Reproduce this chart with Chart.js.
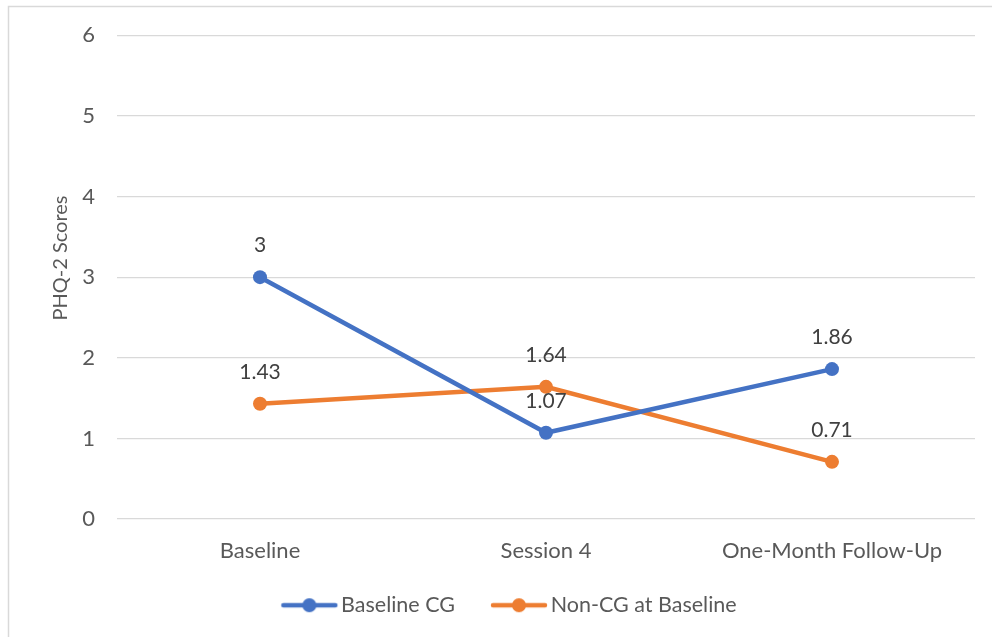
<!DOCTYPE html>
<html>
<head>
<meta charset="utf-8">
<script src="https://cdn.jsdelivr.net/npm/chart.js@4.4.1/dist/chart.umd.min.js"></script>
<style>
  html, body { margin: 0; padding: 0; background: #ffffff; }
  #wrap { position: relative; width: 992px; height: 637px; }
</style>
</head>
<body>
<div id="wrap"><canvas id="chart" width="992" height="637"></canvas></div>
<script>
// Time points and PHQ-2 scores per group
const timePoints = ['Baseline', 'Session 4', 'One-Month Follow-Up'];
const baselineCG = [3, 1.07, 1.86];
const nonCGAtBaseline = [1.43, 1.64, 0.71];
const yTicks = [0, 1, 2, 3, 4, 5, 6];
const yAxisTitle = 'PHQ-2 Scores';

const BLUE = '#4472c4';
const ORANGE = '#ed7d31';
const FONT = 'Lato, "Open Sans", sans-serif';
const TEXT = '#595959';

// Legend swatch: a short line with a dot in the middle.
// The canvas is wider than the line so the line sits right of the box start,
// which leaves a gap between the two legend entries.
function lineDotSwatch(color) {
  const c = document.createElement('canvas');
  c.width = 92; c.height = 16;
  const g = c.getContext('2d');
  g.strokeStyle = color;
  g.lineWidth = 4.5;
  g.lineCap = 'round';
  g.beginPath(); g.moveTo(36, 8); g.lineTo(88, 8); g.stroke();
  g.fillStyle = color;
  g.beginPath(); g.arc(62, 8, 7, 0, Math.PI * 2); g.fill();
  return c;
}

// Thin frame around the chart
const framePlugin = {
  id: 'frame',
  beforeDraw(chart) {
    const ctx = chart.ctx;
    ctx.save();
    ctx.strokeStyle = '#d9d9d9';
    ctx.lineWidth = 1.5;
    ctx.strokeRect(8.5, 6.5, 1400, 1400);
    ctx.restore();
  }
};

// Vertical axis title beside the tick labels
const axisTitlePlugin = {
  id: 'axisTitle',
  afterDraw(chart) {
    const ctx = chart.ctx;
    ctx.save();
    ctx.translate(61, 258);
    ctx.rotate(-Math.PI / 2);
    ctx.font = '20px ' + FONT;
    ctx.fillStyle = TEXT;
    ctx.textAlign = 'center';
    ctx.textBaseline = 'middle';
    ctx.fillText(yAxisTitle, 0, 0);
    ctx.restore();
  }
};

// Value labels above each point
const valueLabels = {
  id: 'valueLabels',
  afterDatasetsDraw(chart) {
    const ctx = chart.ctx;
    ctx.save();
    ctx.font = '21px ' + FONT;
    ctx.fillStyle = '#404040';
    ctx.textAlign = 'center';
    ctx.textBaseline = 'middle';
    chart.data.datasets.forEach((ds, i) => {
      const meta = chart.getDatasetMeta(i);
      meta.data.forEach((pt, j) => {
        ctx.fillText(String(ds.data[j]), pt.x, pt.y - 32);
      });
    });
    ctx.restore();
  }
};

function seriesStyle(color) {
  return {
    borderColor: color,
    backgroundColor: color,
    borderWidth: 4.5,
    pointRadius: 7,
    pointHoverRadius: 7,
    pointBorderWidth: 0,
    pointStyle: 'circle',
    tension: 0
  };
}

const PAD_LEFT = 18;
const PLOT_LEFT = 117;

new Chart(document.getElementById('chart'), {
  type: 'line',
  data: {
    labels: timePoints,
    datasets: [
      Object.assign({ label: 'Baseline CG', data: baselineCG }, seriesStyle(BLUE)),
      Object.assign({ label: 'Non-CG at Baseline', data: nonCGAtBaseline }, seriesStyle(ORANGE))
    ]
  },
  options: {
    responsive: false,
    animation: false,
    events: [],
    layout: { padding: { left: PAD_LEFT, right: 17, top: 30, bottom: 11 } },
    plugins: {
      tooltip: { enabled: false },
      legend: {
        position: 'bottom',
        labels: {
          color: TEXT,
          font: { family: FONT, size: 21.5 },
          usePointStyle: true,
          pointStyleWidth: 74,
          padding: 11,
          generateLabels(chart) {
            return chart.data.datasets.map((ds, i) => ({
              text: ds.label,
              fontColor: TEXT,
              fillStyle: ds.borderColor,
              strokeStyle: ds.borderColor,
              lineWidth: 0,
              pointStyle: lineDotSwatch(ds.borderColor),
              datasetIndex: i,
              hidden: false
            }));
          }
        }
      }
    },
    scales: {
      x: {
        offset: true,
        grid: { display: false, drawTicks: false },
        border: { display: false },
        ticks: {
          color: TEXT,
          font: { family: FONT, size: 22 },
          padding: 19,
          maxRotation: 0
        }
      },
      y: {
        min: 0,
        max: 6,
        afterBuildTicks(scale) {
          scale.ticks = yTicks.map(v => ({ value: v }));
        },
        afterFit(scale) { scale.width = PLOT_LEFT - PAD_LEFT; },
        grid: { color: '#d9d9d9', lineWidth: 1.3, drawTicks: false },
        border: { display: false },
        ticks: {
          color: TEXT,
          font: { family: FONT, size: 22 },
          padding: 22
        }
      }
    }
  },
  plugins: [framePlugin, valueLabels, axisTitlePlugin]
});
</script>
</body>
</html>
